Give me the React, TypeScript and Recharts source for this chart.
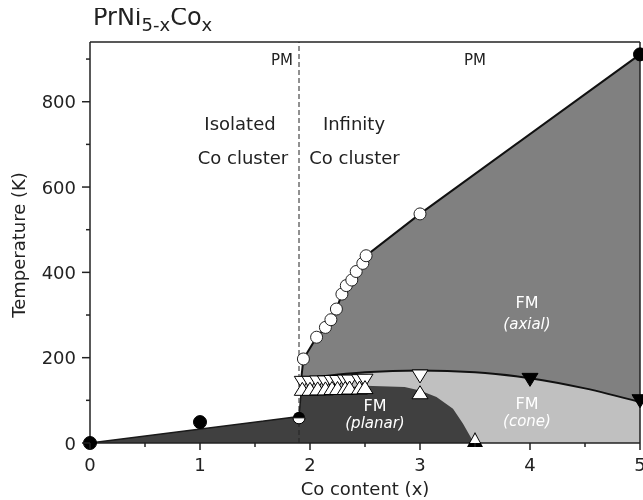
import React from 'react'
import {
  ComposedChart,
  Area,
  Line,
  Scatter,
  XAxis,
  YAxis,
  ReferenceLine,
} from 'recharts'

// PrNi(5-x)Co(x) magnetic phase diagram, temperature in K vs Co content x

const xTicks = [0, 0.5, 1, 1.5, 2, 2.5, 3, 3.5, 4, 4.5, 5]
const yTicks = [0, 100, 200, 300, 400, 500, 600, 700, 800, 900]

// Curie temperatures (open circles)
const tcPoints = [
  { x: 1.94, t: 197 },
  { x: 2.06, t: 248 },
  { x: 2.14, t: 271 },
  { x: 2.19, t: 289 },
  { x: 2.24, t: 314 },
  { x: 2.29, t: 349 },
  { x: 2.33, t: 369 },
  { x: 2.38, t: 382 },
  { x: 2.42, t: 402 },
  { x: 2.48, t: 421 },
  { x: 2.51, t: 439 },
  { x: 3, t: 537 },
]

// filled circles
const blackDots = [
  { x: 0, t: 0 },
  { x: 1, t: 49 },
  { x: 5, t: 911 },
]
const halfDot = [{ x: 1.9, t: 59 }]

// spin reorientation, upper (down triangles) and lower (up triangles)
const srUpper = [
  { x: 1.93, t: 141 },
  { x: 2.0, t: 141 },
  { x: 2.07, t: 142 },
  { x: 2.14, t: 142 },
  { x: 2.2, t: 143 },
  { x: 2.25, t: 143 },
  { x: 2.32, t: 144 },
  { x: 2.36, t: 144 },
  { x: 2.45, t: 145 },
  { x: 2.5, t: 146 },
  { x: 3, t: 156 },
]
const srLower = [
  { x: 1.93, t: 127 },
  { x: 2.0, t: 127 },
  { x: 2.07, t: 128 },
  { x: 2.14, t: 128 },
  { x: 2.2, t: 129 },
  { x: 2.25, t: 129 },
  { x: 2.32, t: 129 },
  { x: 2.36, t: 130 },
  { x: 2.45, t: 130 },
  { x: 2.5, t: 131 },
  { x: 3, t: 119 },
]
const srBlack = [
  { x: 4, t: 148 },
  { x: 5, t: 98 },
]
const planarEnd = [{ x: 3.5, t: 0 }]

// region boundaries
const tcEdge = [{ x: 1.92, t: 150 }, ...tcPoints, { x: 5, t: 911 }]
const coneEdge = [
  { x: 1.92, t: 150 },
  { x: 2.5, t: 166 },
  { x: 3, t: 170 },
  { x: 3.5, t: 166 },
  { x: 4, t: 152 },
  { x: 4.5, t: 128 },
  { x: 5, t: 96 },
]
const planarEdge = [
  { x: 0, t: 0 },
  { x: 1.9, t: 62 },
  { x: 1.92, t: 120 },
  { x: 2.5, t: 134 },
  { x: 2.86, t: 131 },
  { x: 3, t: 123 },
  { x: 3.15, t: 108 },
  { x: 3.3, t: 80 },
  { x: 3.39, t: 46 },
  { x: 3.46, t: 14 },
  { x: 3.49, t: 0 },
]
const lowEdge = [
  { x: 0, t: 0 },
  { x: 1.9, t: 62 },
  { x: 1.92, t: 120 },
]

const X_MAX = 5
const T_MAX = 940

const DARK = '#404040'
const MID = '#808080'
const LIGHT = '#c0c0c0'
const INK = '#222'
const FONT = '"DejaVu Sans", Verdana, sans-serif'

const XTick = (props: any) => {
  const { x, y, payload } = props
  const major = Number.isInteger(payload.value)
  return (
    <g>
      <line x1={x} x2={x} y1={y} y2={y + (major ? 7 : 4)} stroke={INK} strokeWidth={1.5} />
      {major && (
        <text x={x} y={y + 28} textAnchor="middle" fontSize={18} fill={INK} fontFamily={FONT}>
          {payload.value}
        </text>
      )}
    </g>
  )
}

const YTick = (props: any) => {
  const { x, y, payload } = props
  const major = payload.value % 200 === 0
  return (
    <g>
      <line x1={x - (major ? 8 : 4)} x2={x} y1={y} y2={y} stroke={INK} strokeWidth={1.5} />
      {major && (
        <text x={x - 14} y={y + 6.5} textAnchor="end" fontSize={18} fill={INK} fontFamily={FONT}>
          {payload.value}
        </text>
      )}
    </g>
  )
}

const openCircle = (p: any) => (
  <circle cx={p.cx} cy={p.cy} r={6} fill="#fff" stroke={INK} strokeWidth={1} />
)
const blackCircle = (p: any) => (
  <circle cx={p.cx} cy={p.cy} r={6.5} fill="#000" stroke="#000" strokeWidth={1} />
)
const halfCircle = (p: any) => {
  const { cx, cy } = p
  const r = 6
  return (
    <g>
      <path d={`M${cx - r},${cy} A${r},${r} 0 0 1 ${cx + r},${cy} Z`} fill="#000" />
      <path d={`M${cx - r},${cy} A${r},${r} 0 0 0 ${cx + r},${cy} Z`} fill="#fff" stroke="#000" strokeWidth={1} />
    </g>
  )
}
const downTri = (fill: string) => (p: any) => {
  const { cx, cy } = p
  return (
    <polygon
      points={`${cx - 8},${cy - 6.5} ${cx + 8},${cy - 6.5} ${cx},${cy + 6.5}`}
      fill={fill}
      stroke="#000"
      strokeWidth={1}
    />
  )
}
const upTri = (p: any) => {
  const { cx, cy } = p
  return (
    <polygon
      points={`${cx - 8},${cy + 6.5} ${cx + 8},${cy + 6.5} ${cx},${cy - 6.5}`}
      fill="#fff"
      stroke="#000"
      strokeWidth={1}
    />
  )
}
const endTri = (p: any) => {
  const { cx, cy } = p
  return (
    <g>
      <polygon points={`${cx - 8},${cy + 4} ${cx + 8},${cy + 4} ${cx},${cy - 11}`} fill="#000" />
      <polygon points={`${cx - 5},${cy} ${cx + 5},${cy} ${cx},${cy - 9}`} fill="#fff" />
    </g>
  )
}

export default function App() {
  const W = 635
  const H = 492
  return (
    <div
      style={{
        position: 'fixed',
        left: 8,
        top: 8,
        width: W,
        height: H,
        overflow: 'hidden',
        fontFamily: FONT,
      }}
    >
      <ComposedChart
        width={W}
        height={H}
        margin={{ top: 34, right: 3, bottom: 7, left: 0 }}
      >
        <XAxis
          dataKey="x"
          type="number"
          domain={[0, X_MAX]}
          ticks={xTicks}
          interval={0}
          tick={<XTick />}
          tickLine={false}
          tickSize={0}
          tickMargin={0}
          height={50}
          axisLine={{ stroke: INK, strokeWidth: 1.5 }}
        />
        <YAxis
          dataKey="t"
          type="number"
          domain={[0, T_MAX]}
          ticks={yTicks}
          interval={0}
          tick={<YTick />}
          tickLine={false}
          tickSize={0}
          tickMargin={0}
          width={82}
          axisLine={{ stroke: INK, strokeWidth: 1.5 }}
        />

        <Area data={tcEdge} dataKey="t" type="linear" fill={MID} fillOpacity={1} stroke="none" dot={false} activeDot={false} isAnimationActive={false} />
        <Area data={coneEdge} dataKey="t" type="monotone" fill={LIGHT} fillOpacity={1} stroke="none" dot={false} activeDot={false} isAnimationActive={false} />
        <Area data={planarEdge} dataKey="t" type="linear" fill={DARK} fillOpacity={1} stroke="none" dot={false} activeDot={false} isAnimationActive={false} />

        <Line data={tcEdge} dataKey="t" type="linear" stroke="#111" strokeWidth={2} dot={false} activeDot={false} isAnimationActive={false} />
        <Line data={coneEdge} dataKey="t" type="monotone" stroke="#111" strokeWidth={2} dot={false} activeDot={false} isAnimationActive={false} />
        <Line data={lowEdge} dataKey="t" type="linear" stroke="#1a1a1a" strokeWidth={1.5} dot={false} activeDot={false} isAnimationActive={false} />

        <ReferenceLine x={1.9} stroke={INK} strokeWidth={1} strokeDasharray="5 3" />
        <ReferenceLine y={T_MAX} stroke={INK} strokeWidth={1.5} ifOverflow="visible" />
        <ReferenceLine x={X_MAX} stroke={INK} strokeWidth={1.5} ifOverflow="visible" />

        <Scatter data={srUpper} shape={downTri('#fff')} isAnimationActive={false} />
        <Scatter data={srLower} shape={upTri} isAnimationActive={false} />
        <Scatter data={srBlack} shape={downTri('#000')} isAnimationActive={false} />
        <Scatter data={planarEnd} shape={endTri} isAnimationActive={false} />
        <Scatter data={tcPoints} shape={openCircle} isAnimationActive={false} />
        <Scatter data={halfDot} shape={halfCircle} isAnimationActive={false} />
        <Scatter data={blackDots} shape={blackCircle} isAnimationActive={false} />
      </ComposedChart>

      <svg
        width={W}
        height={H}
        style={{ position: 'absolute', left: 0, top: 0, pointerEvents: 'none' }}
        fontFamily={FONT}
      >
        <text x={85} y={17} fontSize={24} fill={INK}>
          PrNi
          <tspan fontSize={18} dy={6}>5-x</tspan>
          <tspan fontSize={24} dy={-6}>Co</tspan>
          <tspan fontSize={18} dy={6}>x</tspan>
        </text>

        <text x={274} y={57} fontSize={15} fill={INK} textAnchor="middle">PM</text>
        <text x={467} y={57} fontSize={15} fill={INK} textAnchor="middle">PM</text>

        <text x={232} y={122} fontSize={18} fill={INK} textAnchor="middle">Isolated</text>
        <text x={235} y={156} fontSize={18} fill={INK} textAnchor="middle">Co cluster</text>
        <text x={346} y={122} fontSize={18} fill={INK} textAnchor="middle">Infinity</text>
        <text x={346.5} y={156} fontSize={18} fill={INK} textAnchor="middle">Co cluster</text>

        <text x={519} y={300} fontSize={16} fill="#fff" textAnchor="middle">FM</text>
        <text x={519} y={321} fontSize={15} fill="#fff" fontStyle="italic" textAnchor="middle">(axial)</text>
        <text x={519} y={401} fontSize={16} fill="#fff" textAnchor="middle">FM</text>
        <text x={519} y={418} fontSize={15} fill="#fff" fontStyle="italic" textAnchor="middle">(cone)</text>
        <text x={367} y={403} fontSize={16} fill="#fff" textAnchor="middle">FM</text>
        <text x={367} y={420} fontSize={15} fill="#fff" fontStyle="italic" textAnchor="middle">(planar)</text>

        <text x={357} y={487} fontSize={18} fill={INK} textAnchor="middle">Co content (x)</text>
        <text
          x={0}
          y={0}
          fontSize={18}
          fill={INK}
          textAnchor="middle"
          transform="translate(17 237) rotate(-90)"
        >
          Temperature (K)
        </text>
      </svg>
    </div>
  )
}
